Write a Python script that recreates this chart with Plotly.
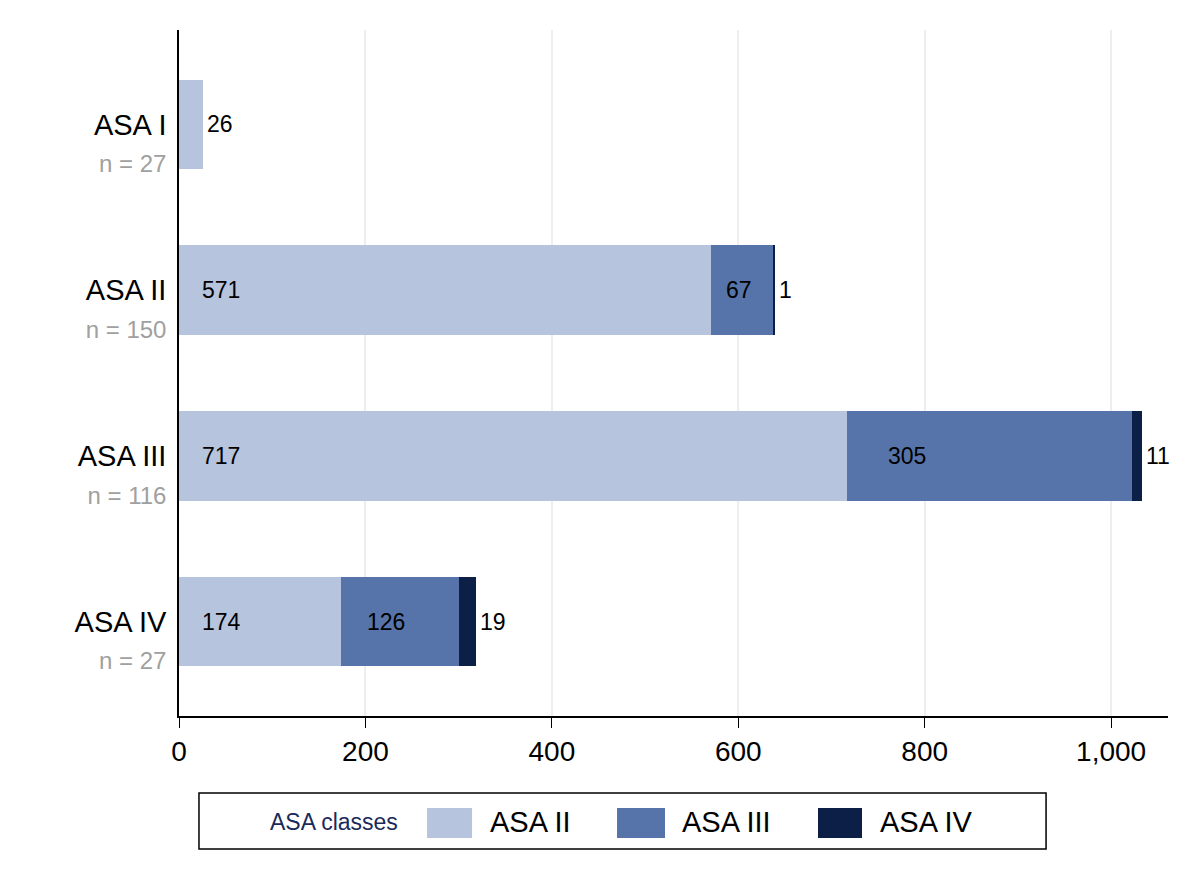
import plotly.graph_objects as go

# ---- data ----
rows = ["ASA I", "ASA II", "ASA III", "ASA IV"]
row_n = [27, 150, 116, 27]
classes = ["ASA II", "ASA III", "ASA IV"]
asa2 = [26, 571, 717, 174]
asa3 = [0, 67, 305, 126]
asa4 = [0, 1, 11, 19]
x_ticks = [0, 200, 400, 600, 800, 1000]
x_ticklabels = ["0", "200", "400", "600", "800", "1,000"]

# ---- style ----
colors = ["#b7c4dd", "#5674a9", "#0c1f47"]
FONT = "Liberation Sans, Arial, Helvetica, sans-serif"
# label offset from segment start (data units) for inside labels
label_dx = [[22, 22, 22, 22], [14, 14, 41, 26], [0, 0, 0, 0]]

series = [asa2, asa3, asa4]
ypos = list(range(len(rows)))

fig = go.Figure()
for k, (name, vals) in enumerate(zip(classes, series)):
    fig.add_trace(go.Bar(
        y=ypos, x=vals, name=name, orientation="h",
        marker=dict(color=colors[k], line=dict(width=0)),
        width=0.54, showlegend=False, hoverinfo="x+name",
    ))

annotations = []
for i in range(len(rows)):
    start = 0
    vals_i = [s[i] for s in series]
    last_nz = max(k for k, v in enumerate(vals_i) if v > 0)
    for k, v in enumerate(vals_i):
        if v > 0:
            if k == last_nz:
                annotations.append(dict(x=start + v, y=i, text=str(v), xanchor="left",
                                        xshift=2, showarrow=False,
                                        font=dict(size=23, color="black", family=FONT)))
            else:
                annotations.append(dict(x=start + label_dx[k][i], y=i, text=str(v),
                                        xanchor="left", showarrow=False,
                                        font=dict(size=23, color="black", family=FONT)))
        start += v

ticktext = [f" <br>{r}<br><span style='font-size:24px;color:#a0a0a0'>n = {n}</span>"
            for r, n in zip(rows, row_n)]

# custom legend (box, title, swatches, labels)
shapes = [dict(type="rect", xref="paper", yref="paper", x0=0.0202, x1=0.8767,
               y0=-0.1939, y1=-0.1122, line=dict(color="black", width=1.5),
               fillcolor="white")]
sw_x = [(0.2508, 0.2963), (0.4429, 0.4914), (0.6461, 0.6906)]
lab_x = [0.3124, 0.5066, 0.7068]
for k, name in enumerate(classes):
    shapes.append(dict(type="rect", xref="paper", yref="paper", x0=sw_x[k][0], x1=sw_x[k][1],
                       y0=-0.1778, y1=-0.1341, line=dict(width=0), fillcolor=colors[k]))
    annotations.append(dict(xref="paper", yref="paper", x=lab_x[k], y=-0.1545, text=name,
                            xanchor="left", yanchor="middle", showarrow=False,
                            font=dict(size=29, color="black", family=FONT)))
annotations.append(dict(xref="paper", yref="paper", x=0.0900, y=-0.1545, text="ASA classes",
                        xanchor="left", yanchor="middle", showarrow=False,
                        font=dict(size=23, color="#1b2a5c", family=FONT)))

fig.update_layout(
    width=1200, height=873,
    margin=dict(l=171, r=40, t=22, b=165),
    plot_bgcolor="white", paper_bgcolor="white",
    barmode="stack", bargap=0,
    font=dict(family=FONT, color="black"),
    xaxis=dict(range=[0, 1061], tickvals=x_ticks, ticktext=x_ticklabels,
               showgrid=True, gridcolor="#eceff2", gridwidth=1.5,
               showline=True, linecolor="black", linewidth=1.5,
               ticks="outside", ticklen=10, tickcolor="black", tickwidth=1,
               tickfont=dict(size=28, family=FONT), zeroline=False),
    yaxis=dict(range=[3.57, -0.57], tickvals=ypos, ticktext=ticktext,
               showgrid=False, showline=True, linecolor="black", linewidth=1.5,
               ticks="", tickfont=dict(size=29, family=FONT), zeroline=False,
               ticklabelstandoff=5),
    shapes=shapes, annotations=annotations,
)

fig.write_html("out.html")
